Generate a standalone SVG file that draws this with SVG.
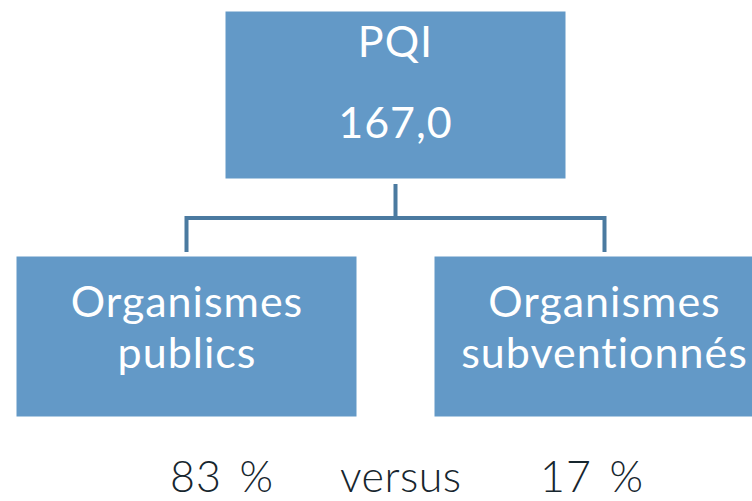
<svg xmlns="http://www.w3.org/2000/svg" width="752" height="501" viewBox="0 0 752 501">
<style>
.box{fill:#6399c7;stroke:#ffffff;stroke-width:1}
.lbl{font-family:Lato,"Open Sans","Liberation Sans",sans-serif;font-size:43px;fill:#ffffff;text-anchor:middle;letter-spacing:1px;font-variant-ligatures:none}
.pct{font-family:Lato,"Open Sans","Liberation Sans",sans-serif;font-size:43px;font-weight:300;fill:#17262e;font-variant-ligatures:none}
.conn{fill:none;stroke:#4b7aa0;stroke-width:4}
</style>
<rect width="752" height="501" fill="#ffffff"/>
<g id="connectors">
<path class="conn" d="M395.5 184V218M186.5 252V218H604.5V252"/>
</g>
<g id="pqi">
<rect class="box" x="225" y="11" width="341" height="168"/>
<text class="lbl" x="395.5" y="57">PQI</text>
<text class="lbl" x="395.5" y="138">167,0</text>
</g>
<g id="publics">
<rect class="box" x="16" y="256" width="341" height="161"/>
<text class="lbl" x="187" y="317">Organismes</text>
<text class="lbl" x="187" y="368">publics</text>
</g>
<g id="subventionnes">
<rect class="box" x="434" y="256" width="341" height="161"/>
<text class="lbl" x="604.5" y="317">Organismes</text>
<text class="lbl" x="604.5" y="368">subventionnés</text>
</g>
<g id="legend">
<text class="pct" x="170" y="492" letter-spacing="1" word-spacing="5">83 %</text>
<text class="pct" x="340" y="492" letter-spacing="0.5">versus</text>
<text class="pct" x="540" y="492" letter-spacing="1" word-spacing="5">17 %</text>
</g>
</svg>
